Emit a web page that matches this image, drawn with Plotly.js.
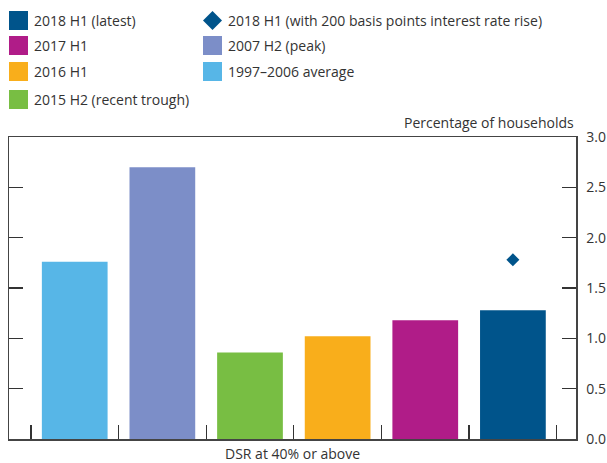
<!DOCTYPE html>
<html>
<head>
<meta charset="utf-8">
<script src="https://cdn.plot.ly/plotly-3.0.1.min.js"></script>
<style>html,body{margin:0;padding:0;background:#fff;}#chart{width:607px;height:463px;}</style>
</head>
<body>
<div id="chart"></div>
<script>
// ---- data ----
const categories = ['1997–2006 average', '2007 H2 (peak)', '2015 H2 (recent trough)', '2016 H1', '2017 H1', '2018 H1 (latest)'];
const values = [1.76, 2.70, 0.86, 1.02, 1.18, 1.28];
const barColors = ['#57B6E7', '#7C8EC8', '#78BE43', '#F9AE1B', '#B01C88', '#00548B'];
const rateRiseLabel = '2018 H1 (with 200 basis points interest rate rise)';
const rateRiseCategory = ['2018 H1 (latest)'];
const rateRiseValue = [1.78];
const yTickVals = [0, 0.5, 1, 1.5, 2, 2.5, 3];
const yTickText = ['0.0', '0.5', '1.0', '1.5', '2.0', '2.5', '3.0'];
const yTitle = 'Percentage of households';
const xTitle = 'DSR at 40% or above';
// legend layout: two columns
const legendCol1 = ['2018 H1 (latest)', '2017 H1', '2016 H1', '2015 H2 (recent trough)'];
const legendCol1Colors = ['#00548B', '#B01C88', '#F9AE1B', '#78BE43'];
const legendCol2 = [rateRiseLabel, '2007 H2 (peak)', '1997–2006 average'];
const legendCol2Colors = ['#00548B', '#7C8EC8', '#57B6E7'];

// ---- geometry helpers (pixel -> paper) ----
const W = 607, H = 463;
const M = {l: 9, r: 31, t: 137, b: 24};
const pw = W - M.l - M.r, ph = H - M.t - M.b;
const xp = px => (px - M.l) / pw;
const yp = py => (H - M.b - py) / ph;

const textColor = '#333333';
const font = {family: 'Open Sans, Noto Sans, sans-serif', size: 14, color: textColor};

const traces = [
  {
    type: 'bar', x: categories, y: values,
    marker: {color: barColors, line: {width: 0}},
    width: 0.75, showlegend: false, hoverinfo: 'x+y'
  },
  {
    type: 'scatter', mode: 'markers', x: rateRiseCategory, y: rateRiseValue,
    marker: {symbol: 'diamond', size: 10, color: '#00548B'},
    name: rateRiseLabel, showlegend: false
  }
];

const shapes = [];
const annotations = [];
const rowY = [20.5, 45.5, 71.5, 99.5];
function addEntry(xSw, row, color, label, diamond) {
  const cy = rowY[row];
  if (diamond) {
    shapes.push({
      type: 'path', xref: 'paper', yref: 'paper',
      path: `M ${xp(xSw)} ${yp(cy)} L ${xp(xSw + 9.5)} ${yp(cy - 9.5)} L ${xp(xSw + 19)} ${yp(cy)} L ${xp(xSw + 9.5)} ${yp(cy + 9.5)} Z`,
      fillcolor: color, line: {width: 0}
    });
  } else {
    shapes.push({
      type: 'rect', xref: 'paper', yref: 'paper',
      x0: xp(xSw), x1: xp(xSw + 19), y0: yp(cy + 9.5), y1: yp(cy - 9.5),
      fillcolor: color, line: {width: 0}
    });
  }
  annotations.push({
    xref: 'paper', yref: 'paper', x: xp(xSw + 23), y: yp(cy),
    xanchor: 'left', yanchor: 'middle', showarrow: false,
    text: label, font: font
  });
}
legendCol1.forEach((lab, i) => addEntry(9, i, legendCol1Colors[i], lab, false));
legendCol2.forEach((lab, i) => addEntry(203, i, legendCol2Colors[i], lab, i === 0));

annotations.push({
  xref: 'paper', yref: 'paper', x: xp(576), y: yp(122),
  xanchor: 'right', yanchor: 'middle', showarrow: false,
  text: yTitle, font: font
});
annotations.push({
  xref: 'paper', yref: 'paper', x: 0.5, y: yp(453),
  xanchor: 'center', yanchor: 'middle', showarrow: false,
  text: xTitle, font: font
});

const layout = {
  width: W, height: H,
  margin: M,
  paper_bgcolor: '#ffffff', plot_bgcolor: '#ffffff',
  font: font,
  showlegend: false,
  xaxis: {
    type: 'category',
    range: [-0.75, 5.72],
    tickson: 'boundaries',
    ticks: 'inside', ticklen: 14, tickwidth: 1.3, tickcolor: '#333333',
    showticklabels: false,
    showgrid: false, zeroline: false,
    showline: true, linecolor: '#444444', linewidth: 1.5,
    mirror: true,
    fixedrange: true
  },
  yaxis: {
    side: 'right',
    range: [0, 3],
    tickvals: yTickVals, ticktext: yTickText,
    ticks: 'inside', ticklen: 14, tickwidth: 1.3, tickcolor: '#333333',
    ticklabelstandoff: 6,
    tickfont: font,
    showgrid: false, zeroline: false,
    showline: true, linecolor: '#444444', linewidth: 1.5,
    mirror: 'ticks',
    fixedrange: true
  },
  shapes: shapes,
  annotations: annotations
};

Plotly.newPlot('chart', traces, layout, {displayModeBar: false, staticPlot: true});
</script>
</body>
</html>
